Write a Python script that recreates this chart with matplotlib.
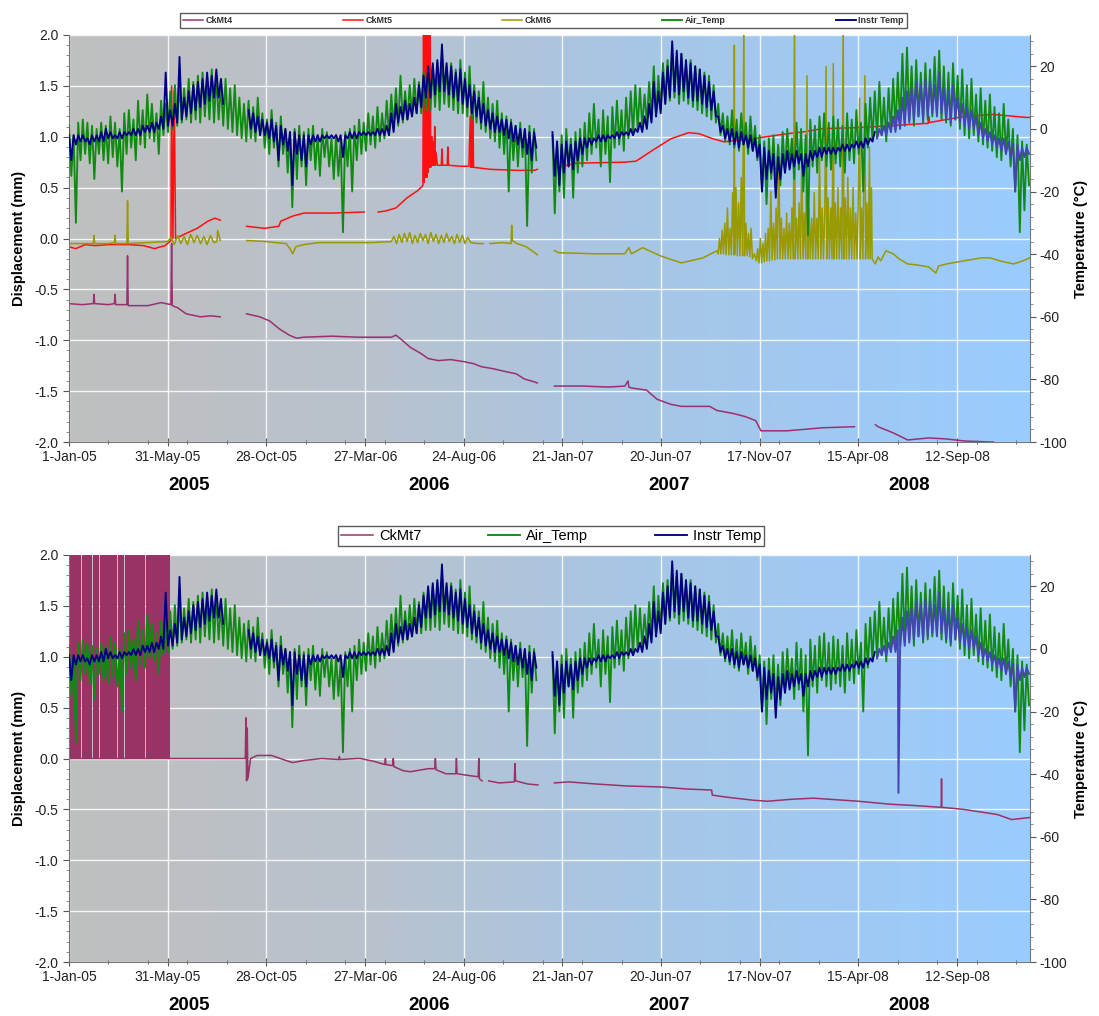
import datetime as dt
import numpy as np
import matplotlib
matplotlib.use("Agg")
import matplotlib.pyplot as plt
from matplotlib.colors import LinearSegmentedColormap
from matplotlib.ticker import MultipleLocator, FuncFormatter

plt.rcParams['font.family'] = ['Liberation Sans', 'DejaVu Sans']
plt.rcParams['axes.unicode_minus'] = False

START = dt.date(2005, 1, 1)
NDAYS = 1461

# ---- temperatures: weekly high / low envelope (deg C), week i starts on day 7*i ----
air_hi = [1, -2, 2, 3, 2, 1, 0, 2, 1, 4, 2, 0, 5,
          6, 3, 9, 6, 11, 8, 5, 9, 8, 12, 14, 15, 13,
          16, 15, 17, 18, 16, 19, 17, 14, 16, 13, 14, 10, 8,
          9, 7, 10, 5, 3, 6, 2, 4, 0, -1, 0, 1, -1,
          0, 1, -2, 0, -1, -3, -2, -4, -1, 0, 1, 3, 2,
          5, 4, 7, 5, 9, 11, 13, 17, 12, 14, 16, 15, 18,
          19, 20, 21, 24, 20, 21, 19, 22, 18, 20, 14, 12, 15,
          10, 8, 9, 5, 4, 3, 1, 2, 0, 1, 0, None, None,
          None, -2, -4, -2, 0, -3, -1, 0, 2, 5, 8, 3, 6,
          4, 7, 9, 6, 10, 12, 14, 13, 11, 15, 20, 17, 21,
          22, 26, 23, 24, 21, 22, 20, 19, 18, 17, 14, 8, 5,
          4, 6, 3, 5, 2, 4, 1, -2, -4, -3, -2, -5, -1,
          0, -3, 2, 0, -2, 3, 1, 4, 5, 2, 4, 3, 1,
          5, 3, 6, 2, 8, 10, 12, 15, 10, 13, 16, 18, 24,
          26, 20, 22, 18, 21, 19, 23, 25, 20, 18, 21, 17, 19,
          14, 16, 11, 13, 9, 11, 7, 5, 8, 3, 0, -2, -4,
          -5]
air_lo = [-15, -30, -10, -8, -11, -16, -8, -10, -11, -9, -12, -20, -8,
          -6, -10, -5, -6, -3, -4, -8, -2, -1, 0, 1, 2, 3,
          2, 3, 2, 4, 3, 2, 3, 1, 0, -1, -2, -3, -4,
          -3, -4, -2, -6, -8, -6, -12, -8, -14, -25, -16, -12, -18,
          -10, -13, -15, -9, -12, -16, -15, -33, -12, -20, -10, -8, -7,
          -5, -6, -4, -3, -2, 0, 1, 2, 3, 4, 5, 5, 6,
          6, 7, 6, 8, 7, 6, 5, 5, 4, 3, 2, 0, -1,
          -3, -4, -6, -8, -20, -10, -12, -9, -31, -14, -10, None, None,
          None, -27, -20, -22, -12, -22, -14, -12, -10, -8, -6, -12, -8,
          -17, -6, -5, -7, -3, -2, 0, 1, 2, 3, 4, 6, 8,
          9, 10, 8, 9, 8, 7, 6, 5, 4, 3, 2, -2, -4,
          -5, -6, -7, -5, -8, -7, -10, -20, -24, -16, -19, -18, -14,
          -12, -16, -13, -20, -34, -12, -14, -10, -12, -13, -11, -12, -14,
          -10, -11, -8, -20, -6, -4, -3, -2, -4, -1, 0, 1, 2,
          3, 1, 4, 2, 3, 4, 5, 3, 2, 1, 3, 0, -2,
          -3, -2, -4, -5, -6, -7, -9, -10, -8, -12, -20, -33, -26,
          -18]
instr_hi = [-2, -2, -2, -2, -3, -2, -2, -1, 0, -1, -2, -1, -1,
            -1, 0, 0, 1, 1, 2, 2, 4, 18, 6, 8, 23, 10,
            12, 14, 15, 16, 18, 17, 19, 16, None, None, None, None, None,
            6, 5, 4, 3, 2, 3, 1, 1, 0, -1, -1, -2, -2,
            -2, -2, -2, -2, -2, -2, -2, -2, -2, -1, -1, -1, -1,
            -1, -1, 0, 0, 1, 5, 8, 7, 9, 8, 10, 14, 17,
            20, 21, 22, 27, 21, 20, 18, 19, 16, 14, 12, 10, 8,
            6, 5, 4, 3, 3, 2, 1, 0, 0, -1, -1, None, None,
            None, -1, -4, -5, -4, -5, -4, -3, -3, -3, -3, -2, -2,
            -2, -2, -1, -1, -1, 0, 0, 2, 4, 8, 15, 12, 18,
            20, 28, 25, 24, 22, 21, 20, 19, 17, 15, 12, 4, 1,
            0, 0, -1, -1, -2, -2, -3, -5, -6, -7, -8, -9, -8,
            -7, -8, -7, -8, -8, -7, -7, -6, -6, -6, -6, -6, -5,
            -5, -5, -4, -4, -3, -3, -1, 0, 1, 2, 4, 6, 10,
            12, 13, 15, 14, 16, 15, 14, 18, 13, 12, 14, 10, 8,
            7, 6, 4, 2, 0, -1, -2, -3, -3, -4, -5, -5, -6,
            -6]
instr_lo = [-10, -5, -4, -4, -5, -4, -4, -4, -3, -3, -3, -3, -2,
            -2, -2, -2, -1, -1, -1, 0, 0, 1, 1, 2, 3, 4,
            5, 6, 7, 8, 9, 10, 10, 8, None, None, None, None, None,
            0, -1, -2, -2, -3, -4, -10, -5, -7, -18, -8, -10, -12,
            -5, -4, -4, -3, -3, -3, -4, -9, -3, -3, -3, -2, -2,
            -2, -2, -2, -2, -2, -1, 2, 3, 3, 4, 5, 7, 10,
            10, 11, 12, 12, 11, 10, 9, 8, 7, 5, 4, 2, 1,
            0, -1, -1, -2, -3, -4, -5, -6, -8, -10, -6, None, None,
            None, -15, -18, -14, -12, -13, -10, -8, -6, -5, -4, -4, -4,
            -3, -3, -3, -2, -2, -2, -1, -1, 0, 2, 4, 5, 8,
            10, 12, 11, 12, 10, 9, 9, 8, 7, 6, 4, -1, -3,
            -4, -5, -6, -5, -6, -7, -9, -20, -16, -14, -22, -16, -14,
            -13, -12, -11, -15, -12, -10, -9, -9, -8, -8, -8, -7, -7,
            -7, -6, -6, -6, -5, -4, -3, -2, -2, -1, -1, 0, 1,
            2, 3, 4, 3, 4, 5, 4, 5, 3, 2, 3, 2, 1,
            0, 0, -2, -3, -4, -5, -6, -7, -8, -9, -20, -10, -9,
            -8]
instr_recolour_day = 1225          # logger swap: lighter trace afterwards
instr_spike = (1261, -46)          # single bad reading, lower chart only

# ---- displacements (mm): (day since 1-Jan-05, value); None = no data ----
ckmt4 = [(0, -0.64), (20, -0.65), (37, -0.64), (38, -0.55), (39, -0.64), (60, -0.65),
         (69, -0.64), (70, -0.55), (71, -0.65), (88, -0.65), (89, -0.17), (90, -0.66),
         (120, -0.66), (140, -0.63), (155, -0.65), (156, -0.05), (157, -0.66), (165, -0.68),
         (178, -0.74), (200, -0.77), (215, -0.76), (230, -0.77), (250, None),
         (270, -0.74), (290, -0.77), (305, -0.81), (320, -0.89), (335, -0.95), (346, -0.98),
         (357, -0.97), (400, -0.96), (440, -0.97), (480, -0.97), (490, -0.97), (497, -0.95),
         (503, -0.98), (519, -1.07), (535, -1.13), (546, -1.18), (562, -1.20), (580, -1.19),
         (600, -1.21), (615, -1.23), (627, -1.26), (645, -1.28), (665, -1.31), (680, -1.33),
         (692, -1.38), (708, -1.41), (712, -1.42), (725, None),
         (738, -1.45), (780, -1.45), (820, -1.46), (845, -1.45), (850, -1.40), (851, -1.46),
         (856, -1.47), (878, -1.49), (894, -1.58), (915, -1.63), (931, -1.65), (974, -1.65),
         (985, -1.69), (1010, -1.72), (1028, -1.75), (1044, -1.79), (1052, -1.89), (1092, -1.89),
         (1146, -1.86), (1194, -1.85), (1210, None),
         (1226, -1.83), (1230, -1.85), (1253, -1.91), (1275, -1.98), (1307, -1.96),
         (1334, -1.97), (1361, -1.99), (1399, -2.0), (1405, -2.0)]

ckmt5 = [(0, -0.08), (10, -0.10), (25, -0.06), (40, -0.07), (60, -0.06), (90, -0.06),
         (113, -0.07), (125, -0.09), (130, -0.10), (140, -0.08), (146, -0.07), (155, -0.02),
         (156, 1.5), (158, 0.0), (160, 1.45), (162, 0.0), (178, 0.05), (195, 0.10),
         (211, 0.17), (222, 0.20), (230, 0.18), (250, None),
         (270, 0.12), (297, 0.10), (319, 0.12), (322, 0.17), (340, 0.22), (357, 0.25),
         (400, 0.25), (449, 0.26), (457, None),
         (470, 0.26), (481, 0.27), (497, 0.30), (514, 0.40), (530, 0.47), (538, 0.52),
         (539, 2.2), (540, 0.55), (541, 2.2), (542, 0.60), (543, 2.2), (544, 0.60),
         (545, 2.2), (546, 0.65), (547, 2.2), (548, 0.70), (549, 2.2), (550, 0.70),
         (552, 1.0), (553, 0.72), (554, 0.95), (555, 0.72), (556, 1.1), (557, 0.72),
         (558, 0.85), (560, 0.72), (566, 0.72), (567, 0.88), (568, 0.72), (575, 0.72),
         (576, 0.90), (577, 0.72), (595, 0.71), (608, 0.71), (610, 1.2), (611, 0.70),
         (612, 1.4), (613, 0.70), (614, 1.3), (615, 0.70), (640, 0.68), (680, 0.67),
         (708, 0.67), (712, 0.68), (725, None),
         (738, 0.69), (770, 0.74), (845, 0.75), (862, 0.76), (888, 0.87), (915, 0.98),
         (942, 1.04), (958, 1.03), (979, 0.98), (996, 0.95), (1039, 0.98), (1092, 1.03),
         (1119, 1.05), (1146, 1.08), (1200, 1.09), (1253, 1.11), (1300, 1.13), (1306, 1.13),
         (1307, 1.20), (1308, 1.14), (1361, 1.20), (1404, 1.22), (1455, 1.19), (1461, 1.19)]

ckmt6 = [(0, -0.05), (30, -0.05), (37, -0.05), (38, 0.03), (39, -0.05), (60, -0.05),
         (69, -0.04), (70, 0.03), (71, -0.05), (88, -0.05), (89, 0.37), (90, -0.05),
         (120, -0.04), (150, -0.03), (155, 0.01), (160, -0.06), (165, 0.03), (170, -0.05),
         (175, 0.02), (180, -0.06), (185, 0.04), (190, -0.04), (195, 0.03), (200, -0.05),
         (205, 0.02), (210, -0.06), (215, 0.03), (220, -0.04), (225, -0.03), (226, 0.08),
         (230, -0.02), (250, None),
         (270, -0.02), (300, -0.03), (330, -0.05), (336, -0.10), (340, -0.15), (345, -0.08),
         (357, -0.06), (380, -0.04), (420, -0.04), (460, -0.04), (490, -0.03), (494, 0.02),
         (498, -0.05), (502, 0.04), (506, -0.04), (510, 0.05), (514, -0.03), (518, 0.06),
         (522, -0.05), (526, 0.03), (530, -0.04), (534, 0.05), (538, -0.02), (542, 0.04),
         (546, -0.05), (550, 0.06), (554, -0.03), (558, 0.04), (562, -0.05), (566, 0.03),
         (570, -0.04), (574, 0.05), (578, -0.03), (582, 0.02), (586, -0.05), (590, 0.04),
         (594, -0.04), (598, 0.03), (602, -0.05), (606, 0.01), (611, -0.04), (622, -0.05),
         (630, -0.05), (636, None),
         (640, -0.05), (660, -0.04), (672, -0.05), (673, 0.13), (674, -0.02), (681, -0.05),
         (695, -0.08), (708, -0.14), (712, -0.16), (725, None),
         (738, -0.12), (745, -0.14), (800, -0.15), (845, -0.15), (851, -0.09), (855, -0.15),
         (872, -0.09), (899, -0.17), (931, -0.24), (964, -0.19), (985, -0.12),
         (987, -0.15), (989, 0.0), (991, -0.15), (993, 0.08), (995, -0.15), (997, 0.15),
         (999, -0.16), (1001, 0.30), (1003, -0.16), (1005, 0.10), (1007, -0.16), (1009, 0.45),
         (1011, -0.16), (1011.5, 1.9), (1012, -0.16), (1014, 0.50), (1016, -0.17), (1018, 0.35),
         (1020, -0.17), (1022, 0.60), (1024, -0.17), (1026, 2.2), (1027, -0.17), (1029, 0.15),
         (1031, -0.17), (1033, 0.05), (1035, -0.18), (1037, 0.10), (1039, -0.20), (1042, -0.15),
         (1045, -0.22), (1047, -0.10), (1049, -0.24), (1051, 0.0), (1053, -0.24), (1055, -0.05),
         (1057, -0.23), (1059, 0.05), (1061, -0.22), (1063, 0.10), (1065, -0.22), (1067, 0.46),
         (1069, -0.21), (1071, 0.15), (1073, -0.21), (1075, 0.30), (1077, -0.20), (1079, 0.90),
         (1081, -0.20), (1083, 0.20), (1085, -0.20), (1087, 0.10), (1089, -0.20), (1091, 0.25),
         (1093, -0.20), (1095, 0.15), (1097, -0.20), (1099, 0.30), (1101, -0.20), (1103, 2.2),
         (1104, -0.20), (1106, 0.20), (1108, -0.20), (1110, 0.35), (1112, -0.20), (1114, 0.80),
         (1116, -0.20), (1118, 0.25), (1120, -0.20), (1122, 1.6), (1123, -0.20), (1125, 0.30),
         (1127, -0.20), (1129, 0.20), (1131, -0.20), (1133, 0.45), (1135, -0.20), (1137, 0.20),
         (1139, -0.20), (1141, 0.85), (1143, -0.20), (1145, 0.30), (1147, -0.20), (1149, 0.25),
         (1151, 1.69), (1152, -0.20), (1154, 0.40), (1156, -0.20), (1158, 0.30), (1160, -0.20),
         (1162, 1.72), (1163, -0.20), (1165, 0.35), (1167, -0.20), (1169, 0.50), (1171, -0.20),
         (1173, 0.30), (1175, -0.20), (1177, 2.2), (1178, -0.20), (1180, 0.40), (1182, -0.20),
         (1184, 0.60), (1186, -0.20), (1188, 0.30), (1190, -0.20), (1192, 0.50), (1194, -0.20),
         (1196, 0.25), (1198, -0.20), (1200, 0.40), (1202, 1.38), (1203, -0.20), (1205, 0.30),
         (1207, -0.20), (1210, 1.6), (1211, -0.20), (1213, 0.35), (1215, -0.20), (1217, 0.90),
         (1218, -0.20), (1220, 0.50), (1221, -0.20),
         (1226, -0.25), (1230, -0.18), (1234, -0.22), (1242, -0.12), (1253, -0.15), (1262, -0.20),
         (1275, -0.25), (1290, -0.26), (1307, -0.28), (1318, -0.34), (1322, -0.27), (1334, -0.25),
         (1360, -0.22), (1388, -0.19), (1400, -0.19), (1415, -0.22), (1436, -0.25), (1450, -0.22),
         (1461, -0.19)]

# CkMt7 was out of range (saturated) over these spans in early 2005
ckmt7_fault_start = [0, 20, 36, 47, 55, 60, 74, 85, 117]
ckmt7_fault_end = [19, 35, 46, 54, 59, 73, 84, 116, 154]
ckmt7_fault_level = 2.0
ckmt7 = [(0, 0.0), (154, 0.0), (268, 0.0), (269, 0.40), (270, -0.22), (271, 0.30), (272, -0.20),
         (276, 0.0), (286, 0.03), (308, 0.03), (330, -0.02), (340, -0.04), (357, -0.02),
         (384, 0.0), (410, -0.01), (411, 0.02), (412, -0.01), (438, 0.0), (443, 0.0),
         (465, -0.03), (480, -0.06), (481, 0.0), (482, -0.06), (492, -0.07), (493, 0.0),
         (494, -0.08), (508, -0.12), (519, -0.13), (546, -0.10), (556, -0.10), (557, 0.0),
         (558, -0.11), (573, -0.15), (588, -0.15), (589, 0.0), (590, -0.15), (611, -0.17),
         (622, -0.18), (623, 0.0), (624, -0.20), (628, -0.22), (632, None),
         (638, -0.22), (654, -0.24), (677, -0.23), (678, -0.05), (679, -0.22), (697, -0.25),
         (713, -0.26), (725, None),
         (738, -0.24), (760, -0.23), (800, -0.25), (848, -0.27), (900, -0.28), (940, -0.30),
         (977, -0.31), (978, -0.36), (1000, -0.38), (1040, -0.41), (1062, -0.42), (1100, -0.40),
         (1132, -0.39), (1200, -0.42), (1250, -0.45), (1280, -0.46), (1326, -0.48),
         (1326.5, -0.20), (1327, -0.48), (1360, -0.50), (1411, -0.55), (1433, -0.60),
         (1461, -0.58)]

year_names = ['2005', '2006', '2007', '2008']
year_label_day = [182, 547, 912, 1278]

C_MT4 = '#9b3070'
C_MT5 = '#ff1010'
C_MT6 = '#999900'
C_MT7 = '#993366'
C_AIR = '#108a10'
C_INSTR = '#000080'
C_INSTR_LATE = '#4444b4'

bg_cmap = LinearSegmentedColormap.from_list(
    'bg', [(0.0, '#bfbfbf'), (0.3, '#b9c2cc'), (0.6, '#a7c6e6'), (1.0, '#99ccff')])


def series(pairs):
    arr = np.array(pairs, dtype=float)
    return arr[:, 0], arr[:, 1]


def envelope(hi, lo):
    wk = np.arange(len(hi)) * 7.0
    x = np.column_stack([wk, wk + 3.5]).ravel()
    y = np.column_stack([np.array(hi, dtype=float), np.array(lo, dtype=float)]).ravel()
    return x, y


def day_label(d, pos):
    day = START + dt.timedelta(days=int(round(d)))
    return f"{day.day}-{day.strftime('%b-%y')}"


def make_panel(rect):
    ax = fig.add_axes(rect)
    ax.imshow(np.linspace(0, 1, 512)[None, :], cmap=bg_cmap, aspect='auto',
              extent=(0, 1, 0, 1), transform=ax.transAxes, zorder=0)
    ax.set_xlim(0, NDAYS)
    ax.set_ylim(-2, 2)
    ax.set_axisbelow(True)
    ax.grid(which='major', color='white', lw=1.0, alpha=0.85)
    ax.xaxis.set_major_locator(MultipleLocator(150))
    ax.xaxis.set_minor_locator(MultipleLocator(60))
    ax.xaxis.set_major_formatter(FuncFormatter(day_label))
    ax.yaxis.set_major_locator(MultipleLocator(0.5))
    ax.yaxis.set_minor_locator(MultipleLocator(0.1))
    ax.yaxis.set_major_formatter(FuncFormatter(lambda v, p: f"{v:.1f}"))
    ax.tick_params(axis='x', which='major', direction='inout', length=6, color='#555555',
                   labelsize=10, pad=3, labelcolor='#222222')
    ax.tick_params(axis='x', which='minor', direction='inout', length=3, color='#555555')
    ax.tick_params(axis='y', which='major', length=4, color='#555555', labelsize=10,
                   labelcolor='#222222')
    ax.tick_params(axis='y', which='minor', length=2, color='#777777')
    for side in ('top', 'right'):
        ax.spines[side].set_visible(False)
    for side in ('left', 'bottom'):
        ax.spines[side].set_color('#777777')
    ax.set_ylabel('Displacement (mm)', fontsize=10.5, fontweight='bold', labelpad=6)

    # temperatures on the secondary axis, drawn over the displacement traces
    axT = ax.twinx()
    axT.set_ylim(-100, 30)
    axT.yaxis.set_major_locator(MultipleLocator(20))
    axT.yaxis.set_minor_locator(MultipleLocator(4))
    axT.tick_params(axis='y', which='major', length=4, color='#555555', labelsize=10,
                    labelcolor='#222222', pad=3)
    axT.tick_params(axis='y', which='minor', length=2, color='#777777')
    for side in ('top', 'left', 'bottom'):
        axT.spines[side].set_visible(False)
    axT.spines['right'].set_color('#777777')
    axT.set_ylabel('Temperature (°C)', fontsize=10.5, fontweight='bold', labelpad=5)

    for name, day in zip(year_names, year_label_day):
        ax.text(day, -0.108, name, transform=ax.get_xaxis_transform(), ha='center',
                va='center', fontsize=13.5, fontweight='bold')
    return ax, axT


def draw_temps(axT, spike=None):
    ax_x, ax_y = envelope(air_hi, air_lo)
    la, = axT.plot(ax_x, ax_y, color=C_AIR, lw=1.35)
    ix, iy = envelope(instr_hi, instr_lo)
    if spike is not None:
        k = np.searchsorted(ix, spike[0])
        ix = np.insert(ix, k, spike[0])
        iy = np.insert(iy, k, spike[1])
    early = ix <= instr_recolour_day
    li, = axT.plot(ix[early], iy[early], color=C_INSTR, lw=1.35)
    axT.plot(ix[~early], iy[~early], color=C_INSTR_LATE, lw=1.35)
    return la, li


fig = plt.figure(figsize=(10.99, 10.16), dpi=100)
W, H = 1099.0, 1016.0
top_rect = [69 / W, 1 - 442 / H, 961 / W, 407 / H]
bot_rect = [69 / W, 1 - 962 / H, 961 / W, 407 / H]

# ---- upper chart: CkMt4-6 ----
ax1, ax1T = make_panel(top_rect)
h4, = ax1.plot(*series(ckmt4), color=C_MT4, lw=1.1, zorder=2)
h5, = ax1.plot(*series(ckmt5), color=C_MT5, lw=1.1, zorder=2)
h6, = ax1.plot(*series(ckmt6), color=C_MT6, lw=1.1, zorder=2)
air1, instr1 = draw_temps(ax1T)

leg1 = fig.legend([h4, h5, h6, air1, instr1],
                  ['CkMt4', 'CkMt5', 'CkMt6', 'Air_Temp', 'Instr Temp'],
                  loc='lower left', bbox_to_anchor=(180 / W, 1 - 28 / H, 727 / W, 18 / H),
                  mode='expand', ncol=5, fontsize=6.5, frameon=True, fancybox=False,
                  edgecolor='#333333', borderaxespad=0, handlelength=2.2,
                  handletextpad=0.3, borderpad=0.35)
leg1.get_frame().set_linewidth(1.0)
for t in leg1.get_texts():
    t.set_fontweight('bold')
    t.set_color('#333333')

# ---- lower chart: CkMt7 ----
ax2, ax2T = make_panel(bot_rect)
for s, e in zip(ckmt7_fault_start, ckmt7_fault_end):
    ax2.fill_between([s, e], 0, ckmt7_fault_level, color=C_MT7, lw=0, zorder=2)
h7, = ax2.plot(*series(ckmt7), color=C_MT7, lw=1.1, zorder=2)
air2, instr2 = draw_temps(ax2T, spike=instr_spike)

leg2 = fig.legend([h7, air2, instr2], ['CkMt7', 'Air_Temp', 'Instr Temp'],
                  loc='lower left', bbox_to_anchor=(338 / W, 1 - 546 / H, 426 / W, 18 / H),
                  mode='expand', ncol=3, fontsize=10.5, frameon=True, fancybox=False,
                  edgecolor='#333333', borderaxespad=0, handlelength=2.2,
                  handletextpad=0.4, borderpad=0.2)
leg2.get_frame().set_linewidth(1.0)

fig.savefig('out.png', dpi=100, facecolor='white')
